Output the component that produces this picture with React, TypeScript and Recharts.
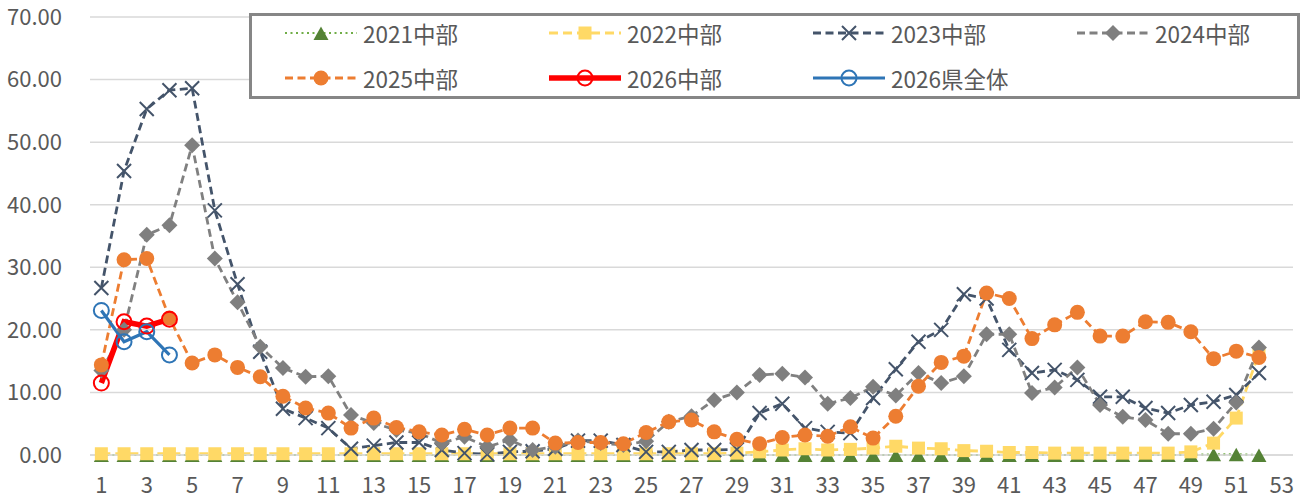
import { LineChart, Line, XAxis, YAxis, CartesianGrid } from 'recharts';

// week numbers on the category axis (53 slots, data for 52)
const WEEKS = [
  1, 2, 3, 4, 5, 6, 7, 8, 9, 10, 11, 12, 13, 14, 15, 16, 17, 18, 19, 20,
  21, 22, 23, 24, 25, 26, 27, 28, 29, 30, 31, 32, 33, 34, 35, 36, 37, 38, 39, 40,
  41, 42, 43, 44, 45, 46, 47, 48, 49, 50, 51, 52, 53,
];
const Y_TICKS = [0, 10, 20, 30, 40, 50, 60, 70];

const CHUBU_2021 = [
  0, 0, 0, 0, 0, 0, 0, 0, 0, 0, 0, 0, 0, 0, 0, 0, 0, 0, 0, 0,
  0, 0, 0, 0, 0, 0, 0, 0, 0, 0, 0, 0, 0, 0, 0, 0, 0, 0, 0, 0,
  0, 0, 0, 0, 0, 0, 0, 0, 0, 0.1, 0.1, 0,
];
const CHUBU_2022 = [
  0.2, 0.2, 0.2, 0.2, 0.2, 0.2, 0.2, 0.2, 0.2, 0.2, 0.2, 0.2, 0.2, 0.2, 0.2, 0.2, 0.2, 0.2, 0.2, 0.2,
  0.2, 0.2, 0.2, 0.2, 0.2, 0.2, 0.2, 0.2, 0.3, 0.5, 0.8, 1.0, 0.8, 0.9, 1.1, 1.4, 1.1, 1.0, 0.7, 0.6,
  0.4, 0.4, 0.3, 0.3, 0.3, 0.3, 0.3, 0.3, 0.5, 1.9, 5.9, 16.3,
];
const CHUBU_2023 = [
  26.7, 45.4, 55.3, 58.3, 58.6, 39.1, 27.3, 16.5, 7.4, 5.9,
  4.3, 1.0, 1.5, 2.0, 2.0, 0.8, 0.3, 0.1, 0.5, 0.6,
  1.0, 2.3, 2.3, 1.6, 0.5, 0.5, 0.8, 0.8, 0.9, 6.7,
  8.2, 4.3, 3.7, 3.5, 9.1, 13.7, 18.1, 20.0, 25.7, 25.0,
  16.8, 13.1, 13.6, 12.0, 9.3, 9.3, 7.5, 6.7, 8.0, 8.5,
  9.6, 13.1,
];
const CHUBU_2024 = [
  13.5, 20.0, 35.2, 36.7, 49.5, 31.4, 24.4, 17.3, 13.9, 12.5,
  12.6, 6.4, 5.1, 4.0, 3.5, 1.9, 2.9, 1.3, 2.4, 0.8,
  1.3, 2.3, 1.9, 1.6, 2.2, 5.3, 6.2, 8.8, 10.0, 12.8,
  13.0, 12.4, 8.2, 9.1, 10.9, 9.5, 13.1, 11.5, 12.6, 19.3,
  19.3, 9.9, 10.8, 14.0, 8.0, 6.1, 5.6, 3.4, 3.4, 4.2,
  8.4, 17.2,
];
const CHUBU_2025 = [
  14.4, 31.2, 31.4, 21.9, 14.7, 16.0, 14.0, 12.5, 9.4, 7.5,
  6.7, 4.3, 5.9, 4.4, 3.7, 3.2, 4.1, 3.2, 4.3, 4.3,
  1.9, 2.0, 2.0, 1.8, 3.6, 5.3, 5.6, 3.7, 2.5, 1.8,
  2.8, 3.2, 3.0, 4.5, 2.7, 6.2, 11.0, 14.8, 15.8, 25.9,
  25.0, 18.6, 20.8, 22.8, 19.0, 19.0, 21.3, 21.2, 19.7, 15.4,
  16.6, 15.6,
];
const CHUBU_2026 = [11.5, 21.3, 20.6, 21.7];
const PREF_2026 = [23.1, 18.1, 19.7, 16.0];

type Shape = 'triangle' | 'square' | 'x' | 'diamond' | 'circle' | 'ring';

const SERIES: {
  key: string;
  name: string;
  values: number[];
  stroke: string;
  marker: string;
  width: number;
  dash?: string;
  shape: Shape;
}[] = [
  { key: 'c2021', name: '2021中部', values: CHUBU_2021, stroke: '#70ad47', marker: '#548235', width: 2.2, dash: '2 3.5', shape: 'triangle' },
  { key: 'c2022', name: '2022中部', values: CHUBU_2022, stroke: '#ffd966', marker: '#ffd966', width: 2.8, dash: '9 5', shape: 'square' },
  { key: 'c2023', name: '2023中部', values: CHUBU_2023, stroke: '#44546a', marker: '#44546a', width: 2.8, dash: '8 4.5', shape: 'x' },
  { key: 'c2024', name: '2024中部', values: CHUBU_2024, stroke: '#808080', marker: '#7f7f7f', width: 2.8, dash: '8 4.5', shape: 'diamond' },
  { key: 'c2025', name: '2025中部', values: CHUBU_2025, stroke: '#ed7d31', marker: '#ed7d31', width: 2.8, dash: '8 4.5', shape: 'circle' },
  { key: 'c2026', name: '2026中部', values: CHUBU_2026, stroke: '#ff0000', marker: '#ff0000', width: 5.5, shape: 'ring' },
  { key: 'p2026', name: '2026県全体', values: PREF_2026, stroke: '#2e75b6', marker: '#2e75b6', width: 3.2, shape: 'ring' },
];

const data = WEEKS.map((w, i) => {
  const row: Record<string, number | null> = { week: w };
  SERIES.forEach((s) => {
    row[s.key] = i < s.values.length ? s.values[i] : null;
  });
  return row;
});

const FONT = '"Noto Sans CJK JP", "Noto Sans", sans-serif';

function Marker({ shape, color, cx, cy }: { shape: Shape; color: string; cx: number; cy: number }) {
  switch (shape) {
    case 'triangle':
      return <path d={`M${cx},${cy - 6.5} L${cx + 7.5},${cy + 7} L${cx - 7.5},${cy + 7} Z`} fill={color} />;
    case 'square':
      return <rect x={cx - 6.5} y={cy - 6.5} width={13} height={13} fill={color} />;
    case 'x':
      return (
        <path
          d={`M${cx - 7},${cy - 7} L${cx + 7},${cy + 7} M${cx + 7},${cy - 7} L${cx - 7},${cy + 7}`}
          stroke={color}
          strokeWidth={2}
          fill="none"
        />
      );
    case 'diamond':
      return <path d={`M${cx},${cy - 8} L${cx + 8},${cy} L${cx},${cy + 8} L${cx - 8},${cy} Z`} fill={color} />;
    case 'circle':
      return <circle cx={cx} cy={cy} r={7.5} fill={color} />;
    default:
      return <circle cx={cx} cy={cy} r={7.5} fill="none" stroke={color} strokeWidth={2} />;
  }
}

function dotFor(shape: Shape, color: string) {
  return (props: any) => {
    const { cx, cy, index, value } = props;
    if (cx == null || cy == null || value == null) return <g key={`e${index}`} />;
    return (
      <g key={`d${index}`}>
        <Marker shape={shape} color={color} cx={cx} cy={cy} />
      </g>
    );
  };
}

// legend box and column centres, page coords
const LEGEND_LEFT = 249;
const LEGEND_TOP = 13;
const LEGEND_BORDER = 3;
const LEGEND_COLS = [321, 585, 849, 1113];

function ChartLegend() {
  const ox = LEGEND_LEFT + LEGEND_BORDER;
  const oy = LEGEND_TOP + LEGEND_BORDER;
  return (
    <div
      style={{
        position: 'absolute',
        left: LEGEND_LEFT,
        top: LEGEND_TOP,
        width: 1051,
        height: 86,
        boxSizing: 'border-box',
        border: `${LEGEND_BORDER}px solid #868686`,
        background: '#fff',
      }}
    >
      {SERIES.map((s, i) => {
        const col = i < 4 ? i : i - 4;
        const rowY = i < 4 ? 33 : 78;
        const cxPage = LEGEND_COLS[col];
        return (
          <div key={s.key}>
            <svg
              width={76}
              height={20}
              style={{ position: 'absolute', left: cxPage - 38 - ox, top: rowY - 10 - oy }}
            >
              <line x1={2} y1={10} x2={74} y2={10} stroke={s.stroke} strokeWidth={s.width} strokeDasharray={s.dash} />
              <Marker shape={s.shape} color={s.marker} cx={38} cy={10} />
            </svg>
            <span
              style={{
                position: 'absolute',
                left: cxPage + 42 - ox,
                top: rowY - 15 - oy,
                fontFamily: FONT,
                fontSize: 22.5,
                lineHeight: '30px',
                color: '#595959',
                whiteSpace: 'nowrap',
              }}
            >
              {s.name}
            </span>
          </div>
        );
      })}
    </div>
  );
}

export default function App() {
  return (
    <div style={{ position: 'relative', width: 1306, height: 500, background: '#fff' }}>
      <style>{'body{margin:0}'}</style>
      <LineChart
        width={1306}
        height={500}
        data={data}
        margin={{ top: 17, right: 13, left: 0, bottom: 0 }}
        style={{ fontFamily: FONT }}
      >
        <CartesianGrid vertical={false} stroke="#d9d9d9" strokeWidth={1.5} />
        <XAxis
          dataKey="week"
          interval={1}
          padding={{ left: 11.35, right: 11.35 }}
          height={45}
          tickLine={false}
          tickSize={0}
          tickMargin={22}
          axisLine={{ stroke: '#d9d9d9', strokeWidth: 1.5 }}
          tick={{ fill: '#595959', fontSize: 22 }}
        />
        <YAxis
          domain={[0, 70]}
          ticks={Y_TICKS}
          width={90}
          axisLine={false}
          tickLine={false}
          tickSize={0}
          tickMargin={28}
          tickFormatter={(v: number) => v.toFixed(2)}
          tick={{ fill: '#595959', fontSize: 22 }}
        />
        {SERIES.map((s) => (
          <Line
            key={s.key}
            dataKey={s.key}
            name={s.name}
            stroke={s.stroke}
            strokeWidth={s.width}
            strokeDasharray={s.dash}
            dot={dotFor(s.shape, s.marker)}
            activeDot={false}
            connectNulls={false}
            isAnimationActive={false}
          />
        ))}
      </LineChart>
      <ChartLegend />
    </div>
  );
}
